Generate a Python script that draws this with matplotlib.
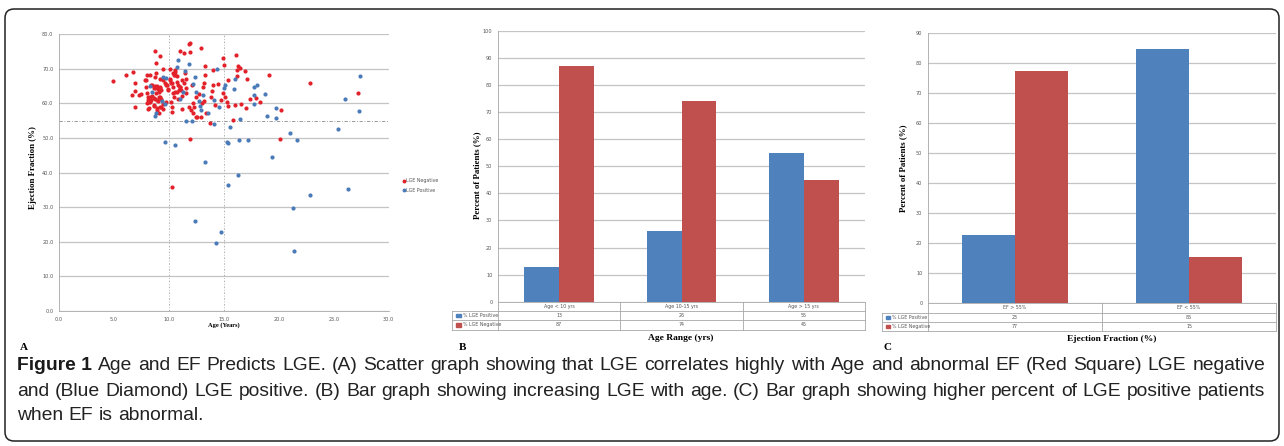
import matplotlib
matplotlib.use("Agg")
import matplotlib.pyplot as plt
from matplotlib import font_manager
from matplotlib.patches import FancyBboxPatch, Rectangle
from matplotlib.lines import Line2D
import matplotlib.transforms as mtransforms

# ---- data ----
# panel A: scatter, age (years) vs ejection fraction (%)
neg_age = [4.9, 6.1, 6.7, 6.6, 6.9, 6.9, 6.9, 7.3, 7.5, 7.8, 8.0, 8.1, 8.0, 8.2, 8.7, 8.8,
           8.8, 9.2, 9.5, 8.4, 8.6, 8.7, 8.9, 9.0, 9.2, 9.3, 9.1, 8.8, 8.5, 8.1, 8.3, 8.6,
           8.9, 9.1, 8.6, 8.9, 9.3, 9.5, 9.1, 9.6, 9.8, 9.9, 10.1, 10.3, 10.2, 10.3, 10.3,
           10.4, 10.6, 10.4, 10.6, 10.7, 10.7, 10.8, 10.9, 11.0, 11.0, 11.2, 11.2, 11.2,
           11.4, 11.5, 11.6, 11.6, 11.8, 11.8, 11.9, 11.9, 11.9, 10.3, 12.1, 12.2, 12.3,
           12.2, 12.5, 12.5, 12.7, 12.9, 12.9, 13.1, 13.2, 13.3, 13.3, 13.2, 13.4, 13.7,
           13.8, 13.9, 14.0, 14.0, 14.2, 14.5, 14.7, 14.9, 14.9, 15.0, 15.1, 15.3, 15.4,
           15.4, 15.8, 16.0, 16.1, 16.2, 16.2, 16.3, 16.5, 16.6, 16.9, 17.1, 17.0, 17.4,
           17.9, 18.3, 19.1, 20.1, 20.2, 22.8, 27.2,
           7.9, 8.0, 8.3, 8.5, 8.7, 8.9, 9.1, 9.2, 8.2, 8.4, 8.7, 9.0, 9.2, 9.3, 8.6, 8.9,
           9.2, 9.5, 9.7, 8.1, 7.9, 8.3, 8.7, 9.2, 9.5, 9.7, 9.9, 10.2, 10.4, 10.7, 10.5,
           10.8, 11.0, 11.1, 11.4, 11.6, 10.5, 10.6, 10.1, 10.1, 10.6, 12.0, 13.0, 12.6]
neg_ef = [66.6, 68.1, 69.0, 62.5, 59.1, 65.8, 63.6, 62.5, 62.7, 66.7, 68.2, 62.0, 60.2, 58.6,
          75.2, 71.8, 68.7, 73.7, 69.9, 65.3, 64.4, 65.1, 64.9, 64.2, 64.4, 63.9, 63.4, 63.1,
          62.1, 61.0, 60.5, 61.5, 61.0, 61.8, 59.3, 58.1, 58.9, 58.3, 57.3, 66.0, 65.3, 63.9,
          67.0, 65.8, 60.5, 58.9, 57.6, 62.9, 63.4, 68.7, 69.2, 67.8, 66.3, 65.3, 63.9, 64.9,
          75.3, 66.7, 62.1, 58.3, 74.7, 68.7, 64.4, 63.1, 58.9, 77.2, 77.4, 74.8, 49.6, 35.8,
          65.3, 60.2, 59.0, 57.3, 56.0, 61.8, 62.7, 75.9, 56.0, 64.9, 66.0, 68.2, 70.8, 60.8,
          57.2, 54.3, 62.0, 63.6, 65.3, 69.7, 59.6, 65.6, 61.0, 73.1, 63.1, 71.1, 62.0, 60.3,
          59.3, 66.8, 55.2, 59.6, 73.9, 69.7, 67.8, 70.9, 70.2, 59.9, 69.5, 67.1, 58.8, 61.2,
          61.7, 60.5, 68.1, 49.7, 58.1, 66.0, 62.9,
          64.8, 63.1, 61.9, 65.3, 64.6, 65.0, 64.3, 64.8, 60.5, 61.0, 61.4, 60.8, 61.9, 61.2,
          59.5, 58.8, 59.0, 59.8, 60.5, 58.5, 66.7, 68.2, 67.7, 67.2, 66.7, 65.3, 64.3, 65.8,
          64.8, 63.4, 61.9, 61.4, 64.8, 63.8, 65.8, 67.2, 68.2, 69.8, 66.7, 69.9, 68.2, 58.0,
          60.0, 56.0]
pos_age = [9.6, 10.6, 13.3, 12.4, 14.3, 14.7, 15.4, 16.3, 15.3, 15.4, 16.4, 17.2, 15.6, 16.5,
           19.4, 18.9, 19.7, 19.7, 21.0, 21.7, 21.3, 21.4, 22.8, 25.4, 26.3, 26.0, 27.3, 27.4,
           18.7, 18.0, 17.7, 17.7, 17.7, 15.9, 16.0, 15.1, 15.0, 14.6, 14.4, 14.1, 14.1, 13.6,
           12.8, 12.9, 13.1, 12.7, 12.5, 12.4, 12.2, 12.1, 11.6, 11.8, 11.5, 11.3, 11.0, 10.8,
           10.7, 9.7, 9.5, 9.6, 8.8, 8.7, 8.5, 8.3, 9.4]
pos_ef = [49.0, 48.0, 43.0, 26.0, 19.8, 22.7, 36.4, 39.2, 49.0, 48.6, 49.3, 49.3, 53.1, 55.4,
          44.4, 56.5, 55.9, 58.6, 51.6, 49.4, 29.7, 17.3, 33.5, 52.7, 35.4, 61.4, 57.9, 68.0,
          62.7, 65.4, 64.7, 62.4, 59.8, 64.1, 67.1, 65.2, 64.4, 58.9, 69.9, 61.0, 54.0, 57.3,
          59.3, 58.1, 62.4, 60.8, 63.3, 67.6, 65.6, 54.9, 55.0, 71.4, 69.5, 63.4, 61.3, 72.6,
          70.6, 67.3, 67.6, 59.9, 57.2, 56.4, 63.2, 65.1, 60.6]
ef_cut = 55
age_cuts = [10, 15]

# panel B: by age range
age_cats = ["Age < 10 yrs", "Age 10-15 yrs", "Age > 15 yrs"]
age_pos = [13, 26, 55]
age_neg = [87, 74, 45]

# panel C: by ejection fraction
ef_cats = ["EF > 55%", "EF < 55%"]
ef_pos = [22.6, 84.6]
ef_neg = [77.4, 15.4]

caption_lines = [
    "Age and EF Predicts LGE. (A) Scatter graph showing that LGE correlates highly with Age and abnormal EF (Red Square) LGE negative",
    "and (Blue Diamond) LGE positive. (B) Bar graph showing increasing LGE with age. (C) Bar graph showing higher percent of LGE positive patients",
    "when EF is abnormal.",
]

# ---- style ----
W, H = 1284, 446
BLUE, RED = "#4f81bd", "#c0504d"
SC_BLUE, SC_RED = "#4a7ab8", "#e2212a"
GRID = "#c4c4c4"
TICK = "#555555"
SERIF = "Liberation Serif"

names = {f.name for f in font_manager.fontManager.ttflist}
cap_font = "Liberation Sans Narrow" if "Liberation Sans Narrow" in names else "Liberation Sans"

fig = plt.figure(figsize=(W / 100, H / 100), dpi=100)


def rect(l, t, r, b):
    return [l / W, 1 - b / H, (r - l) / W, (b - t) / H]


def excel_axes(ax, ylim, step, fmt):
    ax.set_ylim(*ylim)
    ax.set_yticks(range(ylim[0], ylim[1] + 1, step))
    ax.set_yticklabels([fmt.format(v) for v in range(ylim[0], ylim[1] + 1, step)])
    ax.yaxis.grid(True, color=GRID, lw=0.9)
    ax.set_axisbelow(True)
    for s in ["top", "right"]:
        ax.spines[s].set_visible(False)
    ax.spines["left"].set_color("#a6a6a6")
    ax.spines["bottom"].set_color("#a6a6a6")
    ax.spines["left"].set_linewidth(0.6)
    ax.spines["bottom"].set_linewidth(0.6)
    ax.tick_params(length=0, labelsize=3.6, labelcolor=TICK, pad=4)


# ---- panel A ----
axA = fig.add_axes(rect(59, 34.3, 388.7, 311))
excel_axes(axA, (0, 80), 10, "{:.1f}")
axA.set_xlim(0, 30)
axA.set_xticks(range(0, 31, 5))
axA.set_xticklabels(["{:.1f}".format(v) for v in range(0, 31, 5)])
for c in age_cuts:
    axA.axvline(c, color="#a8a8a8", lw=0.6, ls=(0, (2, 2, 1, 2)))
axA.axhline(ef_cut, color="#8a8a8a", lw=0.6, ls=(0, (4, 2, 1, 2)))
axA.scatter(neg_age, neg_ef, s=9, marker="o", color=SC_RED, lw=0, zorder=3)
axA.scatter(pos_age, pos_ef, s=9, marker="o", color=SC_BLUE, lw=0, zorder=3)
hA = [Line2D([], [], ls="", marker="o", ms=1.8, color=SC_RED),
      Line2D([], [], ls="", marker="o", ms=1.8, color=SC_BLUE)]
axA.legend(hA, ["LGE Negative", "LGE Positive"], loc="upper left",
           bbox_to_anchor=(398 / W, 1 - 174 / H), bbox_transform=fig.transFigure,
           frameon=False, fontsize=3.4, handlelength=0.6, handletextpad=0.3,
           labelspacing=1.0, labelcolor=TICK)
fig.text(33 / W, 1 - 168 / H, "Ejection Fraction (%)", rotation=90, ha="center",
         va="center", family=SERIF, weight="bold", fontsize=6.4)
fig.text(224 / W, 1 - 325 / H, "Age (Years)", ha="center", va="center",
         family=SERIF, weight="bold", fontsize=4.6)


# ---- bar panels with data tables ----
def bar_panel(ax, cats, pos, neg, ylim, width, left_w, row_h):
    n = len(cats)
    x = list(range(n))
    excel_axes(ax, ylim, 10, "{:d}")
    ax.set_xlim(-0.5, n - 0.5)
    ax.set_xticks([])
    ax.bar([i - width / 2 for i in x], pos, width, color=BLUE, zorder=2)
    ax.bar([i + width / 2 for i in x], neg, width, color=RED, zorder=2)
    tc = "#a6a6a6"
    kw = dict(transform=ax.transAxes, clip_on=False, color=tc, lw=0.6)
    for k in range(1, 4):
        ax.add_line(Line2D([-left_w, 1], [-k * row_h] * 2, **kw))
    ax.add_line(Line2D([-left_w] * 2, [-row_h, -3 * row_h], **kw))
    ax.add_line(Line2D([0, 0], [0, -3 * row_h], **kw))
    for k in range(1, n + 1):
        ax.add_line(Line2D([k / n] * 2, [0, -3 * row_h], **kw))
    tk = dict(transform=ax.transAxes, ha="center", va="center", fontsize=3.4, color=TICK)
    for i in range(n):
        cx = (i + 0.5) / n
        ax.text(cx, -0.5 * row_h, cats[i], **tk)
        ax.text(cx, -1.5 * row_h, "{:.0f}".format(pos[i]), **tk)
        ax.text(cx, -2.5 * row_h, "{:.0f}".format(neg[i]), **tk)
    for r, (col, lab) in enumerate([(BLUE, "% LGE Positive"), (RED, "% LGE Negative")]):
        yc = -(1.5 + r) * row_h
        ax.add_patch(Rectangle((-left_w + 0.012, yc - 0.006), 0.012, 0.012,
                               transform=ax.transAxes, clip_on=False, color=col))
        ax.text(-left_w + 0.03, yc, lab, transform=ax.transAxes, ha="left",
                va="center", fontsize=3.4, color=TICK)


axB = fig.add_axes(rect(498, 31, 865, 301.7))
bar_panel(axB, age_cats, age_pos, age_neg, (0, 100), 0.2857, 46 / 367, 9.3 / 270.7)
fig.text(477 / W, 1 - 175 / H, "Percent of Patients (%)", rotation=90, ha="center",
         va="center", family=SERIF, weight="bold", fontsize=6.4)
fig.text(681 / W, 1 - 338 / H, "Age Range (yrs)", ha="center", va="center",
         family=SERIF, weight="bold", fontsize=6.8)

axC = fig.add_axes(rect(928, 32.7, 1276, 303.3))
bar_panel(axC, ef_cats, ef_pos, ef_neg, (0, 90), 0.303, 46 / 348, 9.3 / 270.6)
fig.text(903 / W, 1 - 168 / H, "Percent of Patients (%)", rotation=90, ha="center",
         va="center", family=SERIF, weight="bold", fontsize=6.4)
fig.text(1112 / W, 1 - 339 / H, "Ejection Fraction (%)", ha="center", va="center",
         family=SERIF, weight="bold", fontsize=6.8)

for lab, px in [("A", 20), ("B", 459), ("C", 883)]:
    fig.text(px / W, 1 - 348 / H, lab, ha="left", va="center", family=SERIF,
             weight="bold", fontsize=8)

# ---- outer frame ----
frame = FancyBboxPatch((5, 5), 1274, 432, boxstyle="round,pad=0,rounding_size=9",
                       transform=mtransforms.IdentityTransform(), fill=False,
                       ec="#222222", lw=1.1)
fig.patches.append(frame)

# ---- justified caption ----
renderer = fig.canvas.get_renderer()
x_left, x_right = 17, 1265
line_y = [366, 391, 415]


def make_words(li, size):
    out = []
    if li == 0:
        out.append(fig.text(0, 0, "Figure 1", family=cap_font, weight="bold",
                            fontsize=size, color="#1a1a1a", va="center"))
    for w in caption_lines[li].split(" "):
        out.append(fig.text(0, 0, w, family=cap_font, fontsize=size,
                            color="#222222", va="center"))
    return out


# pick a size so that the widest full line fits with normal word spacing
base = 12.0
probe = make_words(1, base)
nat = sum(t.get_window_extent(renderer).width for t in probe) + \
    (len(probe) - 1) * base * 100 / 72 * 0.28
for t in probe:
    t.remove()
cap_size = base * (x_right - x_left) / nat

for li in range(len(caption_lines)):
    texts = make_words(li, cap_size)
    widths = [t.get_window_extent(renderer).width for t in texts]
    space = cap_size * 100 / 72 * 0.28
    if li < len(caption_lines) - 1:
        space = (x_right - x_left - sum(widths)) / (len(texts) - 1)
    x = x_left
    for t, wdt in zip(texts, widths):
        t.set_position((x / W, 1 - line_y[li] / H))
        x += wdt + space

fig.savefig("out.png", dpi=100)
